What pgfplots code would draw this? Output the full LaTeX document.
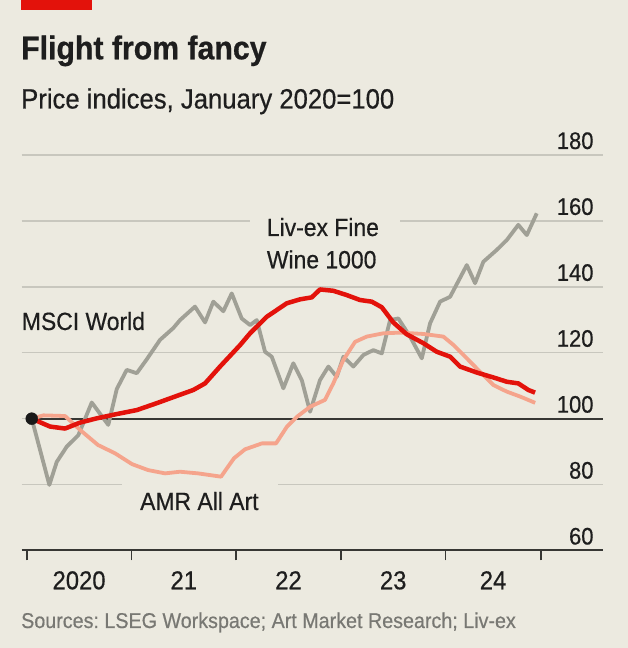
\documentclass[border=0pt]{standalone}
\usepackage{fontspec}
\setmainfont{Liberation Sans}[FakeStretch=0.92, UprightFeatures={FakeBold=0.5}, BoldFeatures={FakeBold=0.6}]
\usepackage{pgfplots}
\pgfplotsset{compat=1.18}
\definecolor{bg}{RGB}{236,234,224}
\definecolor{econred}{RGB}{227,18,11}
\definecolor{salmon}{RGB}{245,164,140}
\definecolor{greyline}{RGB}{160,160,150}
\definecolor{gridc}{RGB}{200,199,190}
\definecolor{axisc}{RGB}{55,55,52}
\definecolor{textc}{RGB}{30,30,30}
\definecolor{srcc}{RGB}{120,120,115}
\frenchspacing
\begin{document}
\begin{tikzpicture}[x=1bp,y=1bp]
\path[use as bounding box] (0,0) rectangle (628,648);
\fill[bg] (0,0) rectangle (628,648);
\fill[econred] (20.7,638) rectangle (91.7,648);
\node[anchor=base west, inner sep=0pt, text=textc, font=\bfseries\fontsize{33}{38}\selectfont] at (21,588.7) {Flight from fancy};
\node[anchor=base west, inner sep=0pt, text=textc, font=\fontsize{28}{32}\selectfont] at (21,539.5) {Price indices, January 2020=100};
\begin{axis}[
  at={(21.7bp,97.5bp)}, anchor=south west,
  scale only axis, width=581bp, height=395.5bp,
  xmin=2019.952, xmax=2025.501, ymin=60, ymax=180,
  axis x line*=bottom, axis y line*=right,
  y axis line style={draw=none},
  x axis line style={color=axisc, line width=2bp},
  ytick={60,80,...,180},
  ymajorgrids, grid style={color=gridc, line width=1.4bp},
  ytick align=inside, ytick style={draw=none},
  yticklabel style={anchor=base east, yshift=6bp, text=textc, font=\fontsize{24}{28}\selectfont},
  yticklabel shift=-0.2cm,
  /pgf/number format/assume math mode=true,
  xtick={2020,2021,2022,2023,2024,2024.908},
  x tick label as interval,
  xticklabels={2020,21,22,23,24},
  xtick align=outside, major tick length=10bp,
  xtick style={color=axisc, line width=1.8bp},
  xticklabel style={anchor=base, text=textc, font=\fontsize{26}{30}\selectfont},
  xticklabel shift=28.8bp,
  clip=false,
]
\draw[axisc, line width=2bp] (axis cs:2020.048,100) -- (axis cs:2025.501,100);
\addplot[greyline, line width=3.8bp, line join=round] coordinates {
(2020.048,100) (2020.216,79.9) (2020.287,86.9) (2020.382,91.5) (2020.493,95.0)
(2020.621,104.9) (2020.779,98.1) (2020.860,109.0) (2020.955,114.8) (2021.051,113.8)
(2021.142,117.8) (2021.273,123.9) (2021.400,127.5) (2021.464,129.9) (2021.607,134.0)
(2021.703,129.2) (2021.782,135.5) (2021.878,132.6) (2021.958,138.0) (2022.053,130.4)
(2022.133,128.4) (2022.197,129.9) (2022.276,120.3) (2022.340,118.8) (2022.451,109.2)
(2022.546,116.8) (2022.627,111.7) (2022.706,102.1) (2022.801,111.7) (2022.881,115.8)
(2022.961,112.7) (2023.024,118.8) (2023.119,115.8) (2023.215,119.3) (2023.310,120.8)
(2023.391,119.8) (2023.470,129.9) (2023.549,130.4) (2023.661,124.9) (2023.773,118.3)
(2023.852,128.9) (2023.948,135.5) (2024.044,137.0) (2024.203,146.6) (2024.282,141.1)
(2024.361,147.6) (2024.489,151.2) (2024.585,154.2) (2024.695,158.8) (2024.776,155.7)
(2024.871,162.3)
};
\addplot[salmon, line width=3.8bp, line join=round] coordinates {
(2020.048,100) (2020.159,101.0) (2020.366,100.8) (2020.509,96.6) (2020.681,92.0)
(2020.843,89.5) (2021.006,86.2) (2021.159,84.4) (2021.321,83.4) (2021.464,83.9)
(2021.636,83.4) (2021.856,82.4) (2021.913,85.0) (2021.980,88.0) (2022.085,90.7)
(2022.247,92.5) (2022.381,92.5) (2022.486,97.6) (2022.582,100.6) (2022.706,103.6)
(2022.849,105.7) (2022.928,110.7) (2023.024,117.8) (2023.136,123.3) (2023.247,124.9)
(2023.406,125.9) (2023.565,126.1) (2023.788,125.7) (2023.979,124.9) (2024.074,122.4)
(2024.203,118.3) (2024.330,114.2) (2024.457,110.2) (2024.585,108.2) (2024.713,106.7)
(2024.856,104.8)
};
\addplot[econred, line width=4.5bp, line join=round] coordinates {
(2020.048,100) (2020.223,97.6) (2020.366,97.0) (2020.509,98.8) (2020.669,100.1)
(2020.860,101.4) (2021.051,102.6) (2021.242,104.7) (2021.433,106.9) (2021.591,108.7)
(2021.703,110.7) (2021.846,115.8) (2022.037,122.3) (2022.133,125.9) (2022.292,130.9)
(2022.483,135.0) (2022.610,136.2) (2022.722,136.8) (2022.801,139.2) (2022.928,138.8)
(2023.056,137.5) (2023.183,136.0) (2023.295,135.5) (2023.391,133.8) (2023.501,129.2)
(2023.629,125.6) (2023.788,122.9) (2023.916,120.3) (2024.044,118.8) (2024.139,115.8)
(2024.298,114.0) (2024.457,112.5) (2024.585,111.2) (2024.695,110.7) (2024.791,108.7)
(2024.855,107.9)
};
\addplot[only marks, mark=*, mark size=6bp, color=black!90] coordinates {(2020.048,100)};
\end{axis}
\fill[bg] (250,422) rectangle (400,433);
\fill[bg] (122,159) rectangle (278,167);
\node[anchor=base west, inner sep=0pt, text=textc, font=\fontsize{25}{29}\selectfont] at (21.7,318) {MSCI World};
\node[anchor=base west, inner sep=0pt, text=textc, font=\fontsize{25}{29}\selectfont] at (140,138) {AMR All Art};
\node[anchor=base west, inner sep=0pt, text=textc, font=\fontsize{25}{29}\selectfont] at (266.7,412) {Liv-ex Fine};
\node[anchor=base west, inner sep=0pt, text=textc, font=\fontsize{25}{29}\selectfont] at (266.7,379.7) {Wine 1000};
\node[anchor=base west, inner sep=0pt, text=srcc, font=\fontsize{21.5}{25}\selectfont] at (21,20) {Sources: LSEG Workspace; Art Market Research; Liv-ex};
\end{tikzpicture}
\end{document}
